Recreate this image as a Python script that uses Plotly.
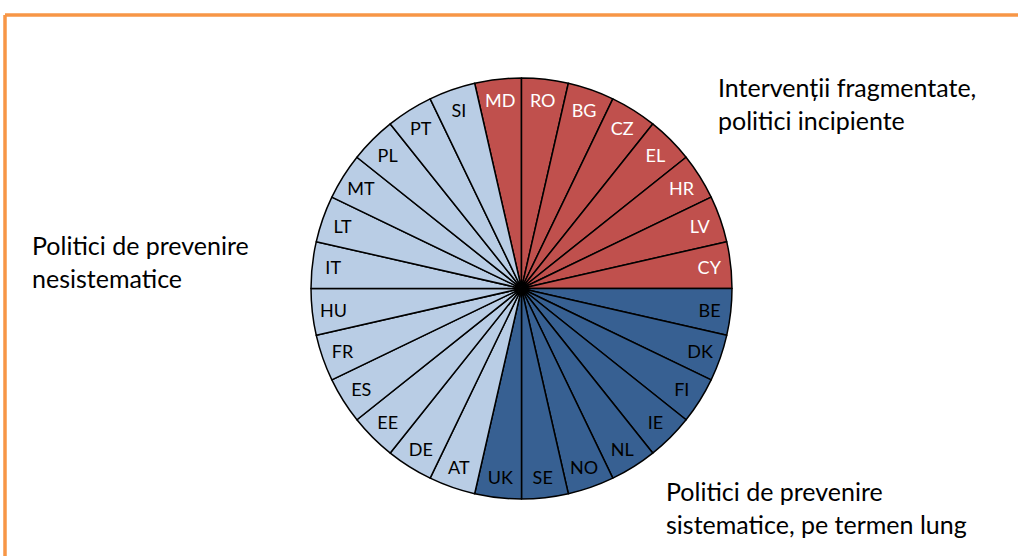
import plotly.graph_objects as go

# country groups, listed clockwise starting just left of 12 o'clock
fragmented = ["MD", "RO", "BG", "CZ", "EL", "HR", "LV", "CY"]
systematic = ["BE", "DK", "FI", "IE", "NL", "NO", "SE", "UK"]
unsystematic = ["AT", "DE", "EE", "ES", "FR", "HU", "IT", "LT", "MT", "PL", "PT", "SI"]

group_labels = {
    "fragmented": "Intervenții fragmentate,<br>politici incipiente",
    "unsystematic": "Politici de prevenire<br>nesistematice",
    "systematic": "Politici de prevenire<br>sistematice, pe termen lung",
}

RED = "#C0504D"
DARK_BLUE = "#376092"
LIGHT_BLUE = "#B9CDE5"
ORANGE = "#F79646"
FONT = "Lato, Calibri, sans-serif"

countries = fragmented + systematic + unsystematic
values = [1] * len(countries)
colors = [RED] * len(fragmented) + [DARK_BLUE] * len(systematic) + [LIGHT_BLUE] * len(unsystematic)
text_colors = ["white"] * len(fragmented) + ["black"] * (len(systematic) + len(unsystematic))

W, H = 1018, 556

fig = go.Figure()
fig.add_pie(
    labels=countries,
    values=values,
    text=countries,
    textinfo="text",
    textposition="inside",
    insidetextorientation="horizontal",
    textfont=dict(family=FONT, size=18, color=text_colors),
    marker=dict(colors=colors, line=dict(color="black", width=1.5)),
    sort=False,
    direction="clockwise",
    rotation=-360 / len(countries),
    hoverinfo="skip",
    showlegend=False,
    domain=dict(x=[311 / W, 732 / W], y=[(H - 499) / H, (H - 78) / H]),
)

ann_font = dict(family=FONT, size=25, color="black")
for txt, x, y in [
    (group_labels["fragmented"], 716, 70),
    (group_labels["unsystematic"], 30, 228),
    (group_labels["systematic"], 664, 474),
]:
    fig.add_annotation(text=txt, x=x / W, y=1 - y / H, xref="paper", yref="paper",
                       xanchor="left", yanchor="top", align="left", showarrow=False, font=ann_font)

# orange frame (top and left edges)
fig.add_shape(type="line", xref="paper", yref="paper", x0=5 / W, x1=1, y0=1 - 15 / H, y1=1 - 15 / H,
              line=dict(color=ORANGE, width=3.5))
fig.add_shape(type="line", xref="paper", yref="paper", x0=5 / W, x1=5 / W, y0=0, y1=1 - 15 / H,
              line=dict(color=ORANGE, width=3.5))

fig.update_layout(
    width=W,
    height=H,
    margin=dict(l=0, r=0, t=0, b=0),
    paper_bgcolor="white",
    plot_bgcolor="white",
)

fig.write_html("out.html", config={"displayModeBar": False},
               post_script="document.body.style.margin = '0';")
